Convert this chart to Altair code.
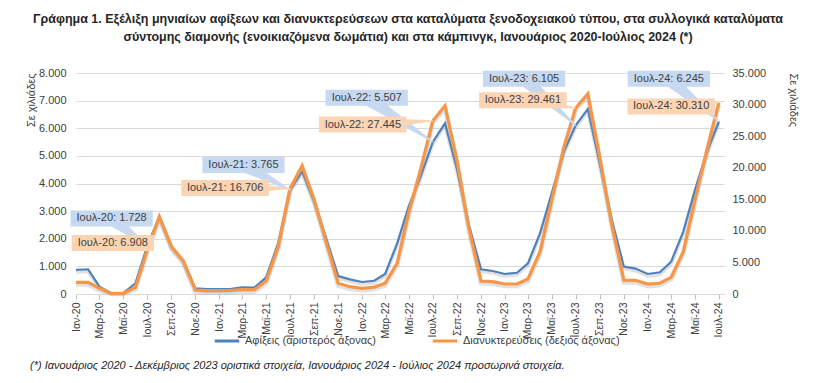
import altair as alt
import pandas as pd

# ---------------- data ----------------
month_names = ["Ιαν", "Φεβ", "Μαρ", "Απρ", "Μαϊ", "Ιουν", "Ιουλ", "Αυγ", "Σεπ", "Οκτ", "Νοε", "Δεκ"]
dates = pd.date_range("2020-01-01", "2024-07-01", freq="MS").strftime("%Y-%m-%d").tolist()

# thousands
arrivals = [
    870, 895, 265, 20, 30, 390, 1728, 2800, 1710, 1200, 205, 180,
    180, 190, 240, 230, 600, 1850, 3765, 4430, 3340, 2030, 650, 530,
    435, 480, 725, 1840, 3200, 4300, 5507, 6180, 4500, 2500, 895, 833,
    725, 770, 1110, 2200, 3650, 5160, 6105, 6690, 4700, 2700, 990, 920,
    725, 785, 1170, 2260, 3770, 5160, 6245,
]
stays = [
    1850, 1850, 900, 80, 100, 1060, 6908, 12250, 7500, 5300, 630, 520,
    520, 560, 680, 680, 2060, 7500, 16706, 20300, 14900, 8300, 1700, 1160,
    900, 1100, 1700, 4900, 13000, 20000, 27445, 29800, 21000, 10400, 2060, 1950,
    1580, 1580, 2380, 6700, 14900, 23300, 29461, 31700, 21500, 11000, 2200, 2170,
    1580, 1700, 2640, 6700, 14900, 23000, 30310,
]

name_arr = "Αφίξεις (αριστερός άξονας)"
name_stay = "Διανυκτερεύσεις (δεξιός άξονας)"

# callouts
c_series = ["arr", "stay", "arr", "stay", "arr", "stay", "arr", "stay", "arr", "stay"]
c_text = ["Ιουλ-20: 1.728", "Ιουλ-20: 6.908", "Ιουλ-21: 3.765", "Ιουλ-21: 16.706",
          "Ιουλ-22: 5.507", "Ιουλ-22: 27.445", "Ιουλ-23: 6.105", "Ιουλ-23: 29.461",
          "Ιουλ-24: 6.245", "Ιουλ-24: 30.310"]
c_target_date = ["2020-07-01", "2020-07-01", "2021-07-01", "2021-07-01", "2022-07-01",
                 "2022-07-01", "2023-07-01", "2023-07-01", "2024-07-01", "2024-07-01"]
c_target_val = [1728, 6908, 3765, 16706, 5507, 27445, 6105, 29461, 6245, 30310]
c_anchor_date = ["2020-04-01", "2020-04-04", "2021-03-04", "2021-01-16", "2022-01-13",
                 "2022-01-03", "2023-02-19", "2023-02-16", "2024-02-24", "2024-03-01"]
c_anchor_val = [2735, 8080, 4670, 16800, 7100, 26830, 7790, 30670, 7790, 29700]

footnote = ("(*) Ιανουάριος 2020 - Δεκέμβριος 2023 οριστικά στοιχεία, "
            "Ιανουάριος 2024 - Ιούλιος 2024 προσωρινά στοιχεία.")
title_lines = [
    "Γράφημα 1. Εξέλιξη μηνιαίων αφίξεων και διανυκτερεύσεων στα καταλύματα ξενοδοχειακού τύπου, στα συλλογικά καταλύματα",
    "σύντομης διαμονής (ενοικιαζόμενα δωμάτια) και στα κάμπινγκ, Ιανουάριος 2020-Ιούλιος 2024 (*)",
]

# ---------------- styling ----------------
BLUE = "#4F81BD"
ORANGE = "#F79646"
BLUE_BOX = "#C6D9F1"
ORANGE_BOX = "#FBD4B4"
FONT = "Liberation Sans"
TEXT_COL = "#404040"
W, H = 648, 221
L_DOM = [0, 8000]
R_DOM = [0, 35000]
SHADOW_PX = 2.0

df = pd.DataFrame({
    "date": dates * 2,
    "series": [name_arr] * len(dates) + [name_stay] * len(dates),
    "value": arrivals + stays,
})
arr_df = df[df.series == name_arr]
stay_df = df[df.series == name_stay]

rows_ptr, rows_box = [], []
for i, s in enumerate(c_series):
    rows_ptr.append({"id": i, "s": s, "date": c_anchor_date[i], "v": c_anchor_val[i], "w": 14, "o": 0})
    rows_ptr.append({"id": i, "s": s, "date": c_target_date[i], "v": c_target_val[i], "w": 1, "o": 1})
    w = 5.3 * len(c_text[i]) + 8
    h = 16
    r = h / w
    rows_box.append({"id": i, "s": s, "date": c_anchor_date[i], "v": c_anchor_val[i],
                     "text": c_text[i], "size": w * w,
                     "shape": f"M-1,{-r:.4f}L1,{-r:.4f}L1,{r:.4f}L-1,{r:.4f}Z"})
ptr = pd.DataFrame(rows_ptr)
box = pd.DataFrame(rows_box)

x_ticks = [alt.DateTime(year=int(d[:4]), month=int(d[5:7]), date=1, utc=True)
           for d in dates[::2]]
month_js = "[" + ",".join(f"'{m}'" for m in month_names) + "]"

x_enc = alt.X(
    "date:T",
    scale=alt.Scale(type="utc", domain=[alt.DateTime(year=2020, month=1, date=1, utc=True),
                                        alt.DateTime(year=2024, month=7, date=14, utc=True)]),
    axis=alt.Axis(
        values=x_ticks, labelExpr=f"{month_js}[utcmonth(datum.value)] + '-' + utcFormat(datum.value, '%y')",
        labelAngle=-90, labelFontSize=10.5, labelColor=TEXT_COL, labelFont=FONT, labelPadding=3,
        tickSize=5, tickColor="#BFBFBF", domainColor="#D9D9D9", grid=False, title=None,
    ),
)

num_expr = "replace(format(datum.value, ','), ',', '.')"

color_enc = alt.Color(
    "series:N",
    scale=alt.Scale(domain=[name_arr, name_stay], range=[BLUE, ORANGE]),
    legend=alt.Legend(
        title=None, orient="none", legendX=137, legendY=254, direction="horizontal",
        symbolType="stroke", symbolSize=600, symbolStrokeWidth=3, columnPadding=50,
        labelFontSize=11, labelFont=FONT, labelColor=TEXT_COL,
    ),
)


def shadow(data, dom, sw):
    shift = SHADOW_PX * (dom[1] - dom[0]) / H
    return alt.Chart(data).mark_line(strokeWidth=sw + 1.5, color="#9A9A9A", opacity=0.3).transform_calculate(
        sv=f"datum.value - {shift}"
    ).encode(x=x_enc, y=alt.Y("sv:Q", scale=alt.Scale(domain=dom, clamp=True), axis=None))


line_arr = alt.Chart(arr_df).mark_line(strokeWidth=2.2).encode(
    x=x_enc,
    y=alt.Y("value:Q", scale=alt.Scale(domain=L_DOM),
            axis=alt.Axis(orient="left", values=list(range(0, 8001, 1000)), labelExpr=num_expr,
                          grid=True, gridColor="#D9D9D9", domain=False, ticks=False,
                          labelFontSize=11, labelColor=TEXT_COL, labelFont=FONT, labelPadding=10,
                          title="Σε χιλιάδες", titleFontSize=11, titleFont=FONT, titleFontWeight="normal",
                          titleColor=TEXT_COL, titleAnchor="end", titleAlign="right", titlePadding=2)),
    color=color_enc,
)
line_stay = alt.Chart(stay_df).mark_line(strokeWidth=3.2).encode(
    x=x_enc,
    y=alt.Y("value:Q", scale=alt.Scale(domain=R_DOM),
            axis=alt.Axis(orient="right", values=list(range(0, 35001, 5000)), labelExpr=num_expr,
                          grid=False, domain=False, ticks=False,
                          labelFontSize=11, labelColor=TEXT_COL, labelFont=FONT, labelPadding=8,
                          title="Σε χιλιάδες", titleFontSize=11, titleFont=FONT, titleFontWeight="normal",
                          titleColor=TEXT_COL, titleAnchor="end", titleAngle=90, titleAlign="left",
                          titlePadding=22)),
    color=color_enc,
)


def callout_layers(series, dom, fill):
    p = ptr[ptr.s == series]
    b = box[box.s == series]
    yv = alt.Y("v:Q", scale=alt.Scale(domain=dom), axis=None)
    trail = alt.Chart(p).mark_trail(color=fill).encode(
        x=x_enc, y=yv, size=alt.Size("w:Q", scale=None, legend=None),
        detail="id:N", order="o:Q")
    rect = alt.Chart(b).mark_point(filled=True, opacity=1, color=fill, strokeWidth=0).encode(
        x=x_enc, y=yv, shape=alt.Shape("shape:N", scale=None, legend=None),
        size=alt.Size("size:Q", scale=None, legend=None))
    txt = alt.Chart(b).mark_text(fontSize=11, font=FONT, color=TEXT_COL).encode(
        x=x_enc, y=yv, text="text:N")
    return [trail, rect, txt]


foot = alt.Chart(pd.DataFrame({"t": [footnote]})).mark_text(
    align="left", baseline="middle", fontSize=11, font=FONT, fontStyle="italic", color="#262626"
).encode(x=alt.value(-46), y=alt.value(293), text="t:N")

layers = [line_arr, line_stay, shadow(arr_df, L_DOM, 2.2), shadow(stay_df, R_DOM, 3.2)]
layers = [layers[2], layers[0], layers[3], layers[1]]
layers += callout_layers("arr", L_DOM, BLUE_BOX) + callout_layers("stay", R_DOM, ORANGE_BOX) + [foot]

chart = alt.layer(*layers).resolve_scale(y="independent", size="independent", shape="independent").properties(
    width=W, height=H,
    autosize=alt.AutoSizeParams(type="none"),
    padding={"left": 68, "top": 65, "right": 85, "bottom": 81},
    title=alt.Title(text=title_lines, fontSize=12.5, font=FONT, fontWeight="bold", color="#262626",
                    anchor="middle", offset=24, lineHeight=18, dx=8),
).configure_view(stroke=None)

chart.save("out.html", embed_options={"renderer": "svg", "actions": False})
